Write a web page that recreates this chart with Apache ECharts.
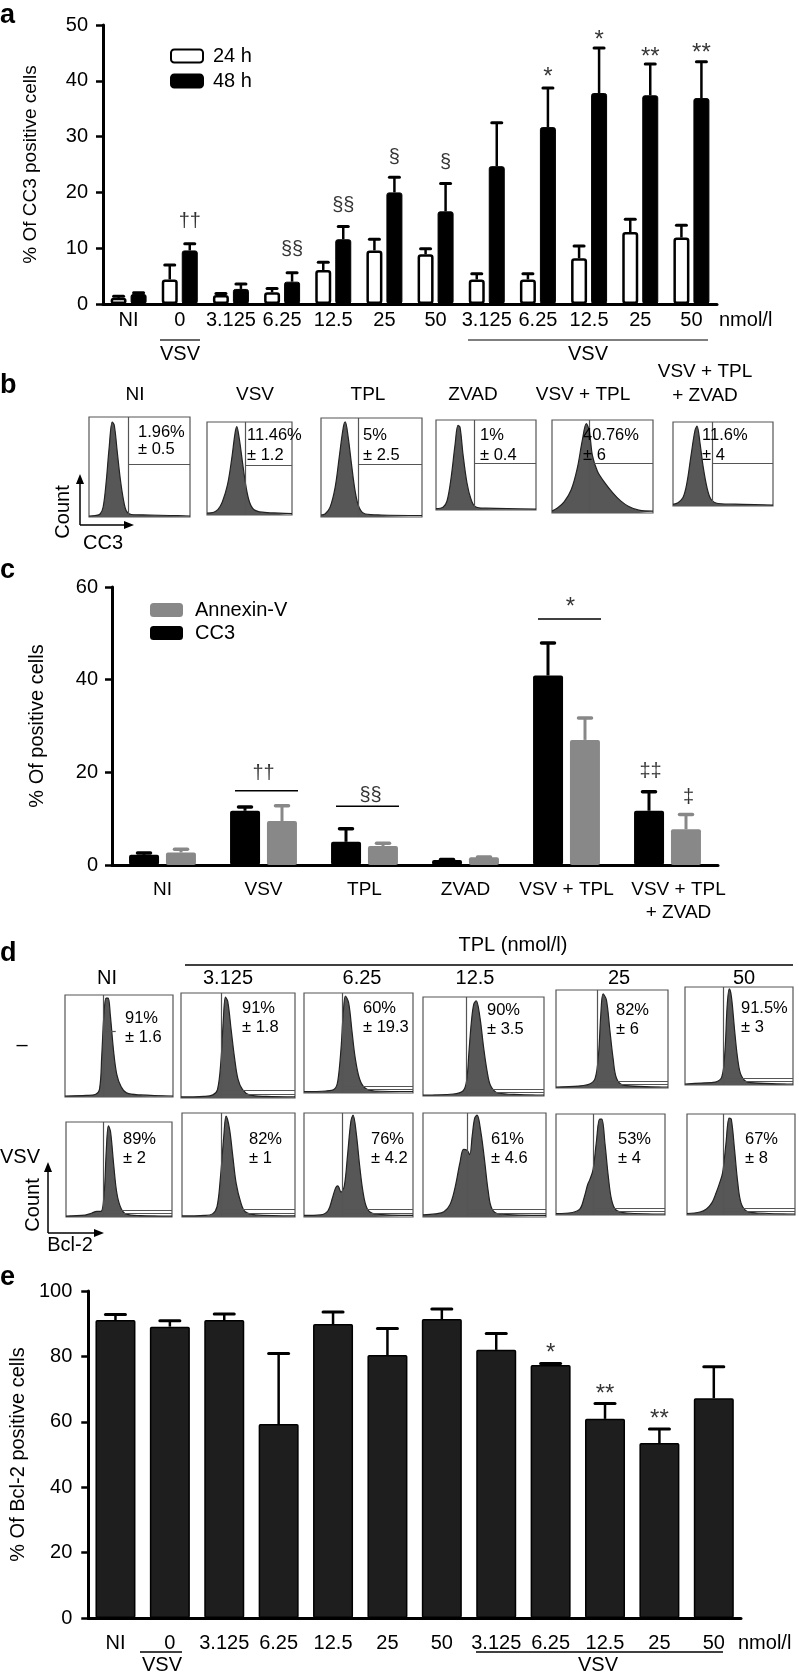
<!DOCTYPE html>
<html><head><meta charset="utf-8">
<script src="https://cdn.jsdelivr.net/npm/echarts/dist/echarts.min.js"></script>
<style>html,body{margin:0;padding:0;background:#fff}#chart{width:799px;height:1676px}</style>
</head><body><div id="chart"></div>
<script>
// ---------- Panel a : % of CC3 positive cells ----------
const catsA = ['NI','0','3.125','6.25','12.5','25','50','V3.125','V6.25','V12.5','V25','V50'];
const tickLabelsA = ['NI','0','3.125','6.25','12.5','25','50','3.125','6.25','12.5','25','50'];
const cc3_24h     = [1.1, 4.4, 1.6, 2.1, 6.1, 9.6, 8.9, 4.4, 4.4, 8.2, 12.9, 11.9];
const cc3_24h_err = [0.3, 2.6, 0.3, 0.7, 1.4, 2.0, 1.0, 1.0, 1.0, 2.2, 2.3, 2.2];
const cc3_48h     = [1.8, 9.6, 2.7, 4.0, 11.6, 20.0, 16.6, 24.7, 31.7, 37.8, 37.4, 36.9];
const cc3_48h_err = [0.2, 1.2, 0.9, 1.6, 2.3, 2.7, 5.0, 7.8, 7.0, 8.1, 5.6, 6.5];
// [category index, y value, text, x offset]
const annotA = [[1,14.7,'††',10],[3,9.7,'§§',10],[4,17.7,'§§',10],[5,26.3,'§',10],[6,25.4,'§',10],
                [8,40.6,'*',10],[9,47.3,'*',10],[10,44.2,'**',10],[11,44.9,'**',10]];
const ticksA = [0,10,20,30,40,50];

// ---------- Panel b : CC3 histograms ----------
const titlesB = ['NI','VSV','TPL','ZVAD','VSV + TPL','VSV + TPL\n+ ZVAD'];
const textsB = [['1.96%','± 0.5'],['11.46%','± 1.2'],['5%','± 2.5'],['1%','± 0.4'],['40.76%','± 6'],['11.6%','± 4']];
const gatesB = [39,45,37,38,37,39];
const splitB = [53,54,53,52,54,51];
const histB_NI   = [[0,1],[6,1.5],[11,3],[14,10],[17,35],[20,70],[23,95],[25,92],[28,65],[31,38],[34,18],[37,6],[42,2.5],[60,2],[80,1.5],[100,1]];
const histB_VSV  = [[0,2],[8,3],[13,6],[18,14],[24,32],[29,60],[33,88],[35,95],[38,82],[42,55],[46,30],[50,14],[55,6],[65,3],[85,2],[100,1.5]];
const histB_TPL  = [[0,2],[4,3],[9,10],[14,30],[18,60],[22,90],[24,96],[27,80],[30,55],[34,25],[38,9],[44,3],[60,2],[100,1.5]];
const histB_ZVAD = [[0,1.5],[7,3],[11,10],[15,35],[19,72],[22,94],[24,92],[27,62],[31,30],[35,12],[39,4],[50,2],[100,1]];
const histB_VT   = [[0,2],[5,5],[12,12],[19,25],[25,48],[30,78],[34,96],[37,88],[40,62],[45,45],[52,33],[60,22],[68,13],[76,7],[86,3],[100,2]];
const histB_VTZ  = [[0,2],[5,4],[10,10],[14,28],[18,60],[22,90],[24,95],[27,75],[30,48],[34,22],[38,8],[45,3],[70,2],[100,1]];
const histB = [histB_NI,histB_VSV,histB_TPL,histB_ZVAD,histB_VT,histB_VTZ];

// ---------- Panel c : % of positive cells ----------
const catsC = ['NI','VSV','TPL','ZVAD','VSV + TPL','VSV + TPL\n+ ZVAD'];
const cc3C      = [2.2, 11.7, 5.0, 1.1, 40.9, 11.7];
const cc3C_err  = [0.4, 0.8, 2.8, 0.1, 7.0, 4.1];
const annexC     = [2.7, 9.5, 4.1, 1.65, 27.0, 7.7];
const annexC_err = [0.7, 3.3, 0.6, 0.1, 4.7, 3.2];
const annotC = [[1,19.8,'††',0],[2,15.1,'§§',6],[4,55.7,'*',4],[5,20.1,'‡‡',-17],[5,14.5,'‡',21]];
const bracketsC = [[1,16.0],[2,12.7],[4,53.1]];
const ticksC = [0,20,40,60];

// ---------- Panel d : Bcl-2 histograms ----------
const colTitlesD = ['NI','3.125','6.25','12.5','25','50'];
const textsDTop = [['91%','± 1.6'],['91%','± 1.8'],['60%','± 19.3'],['90%','± 3.5'],['82%','± 6'],['91.5%','± 3']];
const textsDBot = [['89%','± 2'],['82%','± 1'],['76%','± 4.2'],['61%','± 4.6'],['53%','± 4'],['67%','± 8']];
const gatesDTop = [35,35,35,36,37,35];
const gatesDBot = [35,35,35,36,34,34];
const histD_top = [
  [[0,1],[20,1.5],[28,2.5],[32,8],[34,40],[36,80],[38,97],[40,97],[42,80],[45,45],[48,22],[52,10],[57,4],[70,2],[100,1]],
  [[0,1],[20,1.5],[28,3],[32,8],[35,35],[37,72],[39,96],[41,92],[44,65],[47,38],[50,18],[54,8],[60,3],[75,1.5],[100,1]],
  [[0,1.5],[20,2],[28,4],[31,12],[34,45],[36,80],[38,97],[41,90],[44,62],[47,35],[51,14],[56,5],[65,2],[100,1.5]],
  [[0,1],[25,2],[33,5],[36,15],[38,45],[40,75],[42,93],[44,96],[47,80],[50,50],[53,25],[56,10],[62,3],[80,1.5],[100,1]],
  [[0,1],[20,2],[30,4],[35,10],[38,35],[40,75],[42,96],[45,90],[48,60],[51,30],[54,10],[60,3],[80,1.5],[100,1]],
  [[0,1],[15,2],[28,3],[34,8],[37,35],[39,80],[41,98],[43,90],[46,55],[49,25],[52,10],[58,3],[80,1.5],[100,1]]
];
const histD_bot = [
  [[0,1],[18,2],[24,4],[29,6],[33,6],[36,25],[38,70],[40,96],[42,90],[45,55],[48,25],[52,9],[57,3],[70,1.5],[100,1]],
  [[0,1],[20,1.5],[27,3],[31,10],[34,38],[37,78],[39,97],[42,85],[45,58],[48,32],[52,14],[56,5],[65,2],[100,1]],
  [[0,1.5],[15,2],[22,6],[26,18],[29,28],[31,30],[34,24],[37,30],[40,60],[43,92],[45,98],[48,80],[51,50],[54,25],[58,8],[65,3],[100,1.5]],
  [[0,2],[10,3],[17,5],[22,12],[26,28],[30,52],[33,65],[36,64],[38,60],[40,78],[42,95],[44,98],[47,82],[50,55],[53,25],[56,8],[62,3],[100,1.5]],
  [[0,1.5],[15,2.5],[22,6],[26,18],[29,30],[31,35],[34,45],[37,72],[40,95],[42,95],[45,70],[48,38],[51,15],[55,5],[65,2],[100,1]],
  [[0,1.5],[12,3],[18,6],[23,12],[27,22],[30,31],[33,42],[36,70],[39,96],[41,95],[44,65],[47,32],[50,12],[55,4],[65,2],[100,1]]
];

// ---------- Panel e : % of Bcl-2 positive cells ----------
const catsE = catsA;
const tickLabelsE = tickLabelsA;
const bcl2     = [91.1, 89.1, 91.1, 59.3, 89.9, 80.4, 91.4, 82.0, 77.4, 60.9, 53.5, 67.2];
const bcl2_err = [1.7, 1.8, 1.9, 21.6, 3.7, 8.1, 3.1, 5.0, 0.4, 4.7, 4.3, 9.6];
const annotE = [[8,81.0,'*',0],[9,68.5,'**',0],[10,60.6,'**',0]];
const ticksE = [0,20,40,60,80,100];

// ================= layout / styles =================
const FONT = "'Liberation Sans', Arial, Helvetica, sans-serif";
const FS = 20;
const boxesB = [[89,417,101,100],[207,422,85,93],[321,418,101,99],[436,420,100,90],[552,420,101,93],[673,422,100,84]];
const titlePosB = [[135,395],[255,395],[368,395],[473,395],[583,395],[705,384]];
const textPosB = [[138,432,449],[247,435,455],[363,435,455],[480,435,455],[583,435,455],[702,435,455]];
const boxesDTop = [[65,995,108,102],[181,993,114,105],[304,993,109,100],[423,997,121,99],[556,990,112,98],[685,987,108,98]];
const boxesDBot = [[66,1122,106,95],[182,1113,113,104],[304,1113,109,104],[423,1113,123,104],[556,1114,109,101],[687,1114,108,101]];
const textPosDTop = [[125,1018],[242,1008],[363,1008],[487,1010],[616,1010],[741,1008]];
const textPosDBot = [[123,1139],[249,1139],[371,1139],[491,1139],[618,1139],[745,1139]];
const colTitleXD = [107,228,362,475,619,744];

function errRender(offset, capW, lw, color) {
  return function (params, api) {
    const i = api.value(0), v = api.value(1), e = api.value(2);
    const p0 = api.coord([i, v]), p1 = api.coord([i, v + e]);
    const x = p0[0] + offset;
    return {type:'group', children:[
      {type:'line', shape:{x1:x,y1:p0[1],x2:x,y2:p1[1]}, style:{stroke:color,lineWidth:lw}},
      {type:'line', shape:{x1:x-capW/2,y1:p1[1],x2:x+capW/2,y2:p1[1]}, style:{stroke:color,lineWidth:lw+0.5,lineCap:'round'}}
    ]};
  };
}
function bracketRender(params, api) {
  const c = api.coord([api.value(0), api.value(1)]);
  return {type:'line', shape:{x1:c[0]+3-31.5,y1:c[1],x2:c[0]+3+31.5,y2:c[1]}, style:{stroke:'#000',lineWidth:1.5}};
}
function annotSeries(gi, arr) {
  return {type:'scatter', xAxisIndex:gi, yAxisIndex:gi, symbolSize:1, silent:true, z:6,
    itemStyle:{color:'rgba(0,0,0,0)'},
    label:{show:true, position:'inside', color:'#000', fontFamily:FONT},
    data: arr.map(a => ({value:[a[0],a[1]],
      label:{formatter:a[2], offset:[a[3],0], fontSize: a[2].indexOf('*') >= 0 ? 24 : 20}}))};
}
function mainYAxis(gi, max, interval, name, gap, margin) {
  return {type:'value', gridIndex:gi, min:0, max:max, interval:interval,
    name:name, nameLocation:'middle', nameGap:gap, nameRotate:90,
    nameTextStyle:{fontSize:gi===0?19:20, fontFamily:FONT, color:'#000'},
    axisLine:{show:true, lineStyle:{color:'#000', width:3}},
    axisTick:{show:true, length:7, lineStyle:{color:'#000', width:2.5}},
    axisLabel:{fontSize:FS, fontFamily:FONT, color:'#000', margin:margin},
    splitLine:{show:false}};
}
function mainXAxis(gi, data, labels, margin, lh, fs) {
  return {type:'category', gridIndex:gi, data:data,
    axisLine:{lineStyle:{color:'#000', width:3}},
    axisTick:{alignWithLabel:true, length:7, lineStyle:{color:'#000', width:2.5}},
    axisLabel:{fontSize:fs||FS, fontFamily:FONT, color:'#000', margin:margin, interval:0, lineHeight:lh||20,
      formatter: labels ? ((v, i) => labels[i]) : undefined}};
}

const grids = [
  {left:103, top:25, width:614, height:279},
  {left:112, top:587, width:606, height:278},
  {left:79, top:1291, width:662, height:327}
];
const xAxisC = mainXAxis(1, catsC, null, 13, 23, 19);
xAxisC.axisLabel.formatter = function (v, i) {
  return i === catsC.length - 1 ? v.split('\n').map(s => '{r|' + s + '}').join('\n') : v;
};
xAxisC.axisLabel.rich = {r:{fontSize:19, fontFamily:FONT, color:'#000', lineHeight:23, padding:[0,0,0,22]}};
const xAxes = [mainXAxis(0, catsA, tickLabelsA, 6), xAxisC, mainXAxis(2, catsE, tickLabelsE, 15)];
const yAxes = [mainYAxis(0, 50, 10, '% Of CC3 positive cells', 63, 15),
               mainYAxis(1, 60, 20, '% Of positive cells', 65, 14),
               mainYAxis(2, 100, 20, '% Of Bcl-2 positive cells', 60, 16)];

const series = [
  {name:'24 h', type:'bar', xAxisIndex:0, yAxisIndex:0, data:cc3_24h, barWidth:16, barGap:'25%', z:3,
   itemStyle:{color:'#fff', borderColor:'#000', borderWidth:2.5, borderRadius:2}},
  {name:'48 h', type:'bar', xAxisIndex:0, yAxisIndex:0, data:cc3_48h, barWidth:16, barGap:'25%', z:3,
   itemStyle:{color:'#000', borderColor:'#000', borderWidth:1, borderRadius:2}},
  {type:'custom', xAxisIndex:0, yAxisIndex:0, renderItem:errRender(-10,10,2.5,'#000'), encode:{x:0,y:1}, z:2, silent:true,
   data: cc3_24h.map((v,i) => [i, v, cc3_24h_err[i]])},
  {type:'custom', xAxisIndex:0, yAxisIndex:0, renderItem:errRender(10,10,2.5,'#000'), encode:{x:0,y:1}, z:2, silent:true,
   data: cc3_48h.map((v,i) => [i, v, cc3_48h_err[i]])},
  annotSeries(0, annotA),

  {name:'CC3', type:'bar', xAxisIndex:1, yAxisIndex:1, data:cc3C, barWidth:30, barGap:'23%', z:3,
   itemStyle:{color:'#000', borderRadius:2}},
  {name:'Annexin-V', type:'bar', xAxisIndex:1, yAxisIndex:1, data:annexC, barWidth:30, barGap:'23%', z:3,
   itemStyle:{color:'#888888', borderRadius:2}},
  {type:'custom', xAxisIndex:1, yAxisIndex:1, renderItem:errRender(-18.5,13,3,'#000'), encode:{x:0,y:1}, z:2, silent:true,
   data: cc3C.map((v,i) => [i, v, cc3C_err[i]])},
  {type:'custom', xAxisIndex:1, yAxisIndex:1, renderItem:errRender(18.5,13,3,'#888888'), encode:{x:0,y:1}, z:2, silent:true,
   data: annexC.map((v,i) => [i, v, annexC_err[i]])},
  {type:'custom', xAxisIndex:1, yAxisIndex:1, renderItem:bracketRender, encode:{x:0,y:1}, z:2, silent:true, data:bracketsC},
  annotSeries(1, annotC),

  {name:'Bcl-2', type:'bar', xAxisIndex:2, yAxisIndex:2, data:bcl2, barWidth:40, z:3,
   itemStyle:{color:'#1e1e1e', borderColor:'#000', borderWidth:1.5, borderRadius:1}},
  {type:'custom', xAxisIndex:2, yAxisIndex:2, renderItem:errRender(0,20,2.5,'#000'), encode:{x:0,y:1}, z:2, silent:true,
   data: bcl2.map((v,i) => [i, v, bcl2_err[i]])},
  annotSeries(2, annotE)
];

function addHist(box, data, gate, lines) {
  const gi = grids.length;
  grids.push({left:box[0], top:box[1], width:box[2], height:box[3], show:true, borderColor:'#555', borderWidth:1.2, backgroundColor:'#fff'});
  xAxes.push({type:'value', gridIndex:gi, min:0, max:100, show:false});
  yAxes.push({type:'value', gridIndex:gi, min:0, max:100, show:false});
  const ml = [[{coord:[gate,0]},{coord:[gate,100]}]].concat(lines.map(l => [{coord:[gate,l[0]]},{coord:[l[1],l[0]]}]));
  series.push({type:'line', xAxisIndex:gi, yAxisIndex:gi, data:data, smooth:0.35, symbol:'none', silent:true, z:3,
    lineStyle:{color:'#222', width:1.2}, areaStyle:{color:'#575757', opacity:1},
    markLine:{silent:true, symbol:'none', animation:false, label:{show:false},
      lineStyle:{color:'#555', width:1.2, type:'solid'}, data:ml}});
}
for (let i = 0; i < 6; i++) addHist(boxesB[i], histB[i], gatesB[i], [[splitB[i],100]]);
for (let i = 0; i < 6; i++) addHist(boxesDTop[i], histD_top[i], gatesDTop[i], i===0 ? [[64, gatesDTop[i]+12]] : [[7,100],[4,100]]);
for (let i = 0; i < 6; i++) addHist(boxesDBot[i], histD_bot[i], gatesDBot[i], [[7,100],[4,100]]);

// ---------- graphic text / lines ----------
function txt(x, y, s, o) {
  o = o || {};
  return {type:'text', x:x, y:y, rotation:o.rot||0, silent:true, z:100,
    style:{text:s, fill:'#000', fontSize:o.size||FS, fontFamily:FONT, fontWeight:o.weight||'normal',
      align:o.align||'center', verticalAlign:'middle', textAlign:o.align||'center', textVerticalAlign:'middle', lineHeight:o.lh||undefined}};
}
function ln(x1,y1,x2,y2,w,c) { return {type:'line', silent:true, z:100, shape:{x1,y1,x2,y2}, style:{stroke:c||'#000', lineWidth:w||1.5}}; }
function tri(pts) { return {type:'polygon', silent:true, z:100, shape:{points:pts}, style:{fill:'#000'}}; }

const G = [];
// panel letters
G.push(txt(0,16,'a',{size:27,weight:'bold',align:'left'}), txt(0,386,'b',{size:27,weight:'bold',align:'left'}),
       txt(0,571,'c',{size:27,weight:'bold',align:'left'}), txt(0,954,'d',{size:27,weight:'bold',align:'left'}),
       txt(0,1278,'e',{size:27,weight:'bold',align:'left'}));
// panel a extras
G.push(txt(719,320,'nmol/l',{align:'left'}), ln(160,340,200,340,1.5,'#333'), txt(180,354,'VSV'),
       ln(468,340,708,340,1.5,'#555'), txt(588,354,'VSV'));
// panel e extras
G.push(txt(738,1643,'nmol/l',{align:'left'}), ln(140,1652,182,1652,1.5,'#000'), txt(162,1665,'VSV'),
       ln(476,1652,723,1652,1.5,'#000'), txt(598,1665,'VSV'));
// panel b titles and texts
for (let i = 0; i < 6; i++) {
  G.push(txt(titlePosB[i][0], titlePosB[i][1], titlesB[i], {size:19, lh:24}));
  G.push(txt(textPosB[i][0], textPosB[i][1], textsB[i][0], {size:16.5, align:'left'}));
  G.push(txt(textPosB[i][0], textPosB[i][2], textsB[i][1], {size:16.5, align:'left'}));
}
// panel b axes arrows
G.push(ln(80,525,80,482,1.5), tri([[76,484],[84,484],[80,474]]), ln(80,525,126,525,1.5), tri([[124,521],[124,529],[134,525]]),
       txt(63,512,'Count',{rot:Math.PI/2}), txt(103,543,'CC3'));
// panel d header
G.push(txt(513,945,'TPL (nmol/l)'), ln(185,965,793,965,1.5));
for (let i = 0; i < 6; i++) {
  G.push(txt(colTitleXD[i], 978, colTitlesD[i]));
  G.push(txt(textPosDTop[i][0], textPosDTop[i][1], textsDTop[i][0], {size:16.5, align:'left'}));
  G.push(txt(textPosDTop[i][0], textPosDTop[i][1]+19, textsDTop[i][1], {size:16.5, align:'left'}));
  G.push(txt(textPosDBot[i][0], textPosDBot[i][1], textsDBot[i][0], {size:16.5, align:'left'}));
  G.push(txt(textPosDBot[i][0], textPosDBot[i][1]+19, textsDBot[i][1], {size:16.5, align:'left'}));
}
G.push(txt(22,1045,'–'), txt(0,1157,'VSV',{align:'left'}));
G.push(ln(48,1233,48,1170,1.5), tri([[44,1172],[52,1172],[48,1162]]), ln(48,1233,96,1233,1.5), tri([[94,1229],[94,1237],[104,1233]]),
       txt(33,1205,'Count',{rot:Math.PI/2}), txt(70,1245,'Bcl-2'));

const option = {
  animation:false,
  backgroundColor:'#fff',
  textStyle:{fontFamily:FONT},
  grid:grids, xAxis:xAxes, yAxis:yAxes, series:series,
  legend:[
    {data:['24 h','48 h'], left:170, top:46, orient:'vertical', itemWidth:32, itemHeight:13, itemGap:5, padding:0,
     icon:'roundRect', selectedMode:false, textStyle:{fontSize:FS, fontFamily:FONT, color:'#000', lineHeight:20, padding:[0,0,0,5]}},
    {data:['Annexin-V','CC3'], left:150, top:600, orient:'vertical', itemWidth:33, itemHeight:14, itemGap:3, padding:0,
     icon:'roundRect', selectedMode:false, textStyle:{fontSize:FS, fontFamily:FONT, color:'#000', lineHeight:20, padding:[0,0,0,7]}}
  ],
  graphic:{elements:G}
};
const chart = echarts.init(document.getElementById('chart'), null, {renderer:'canvas'});
chart.setOption(option);
</script></body></html>
